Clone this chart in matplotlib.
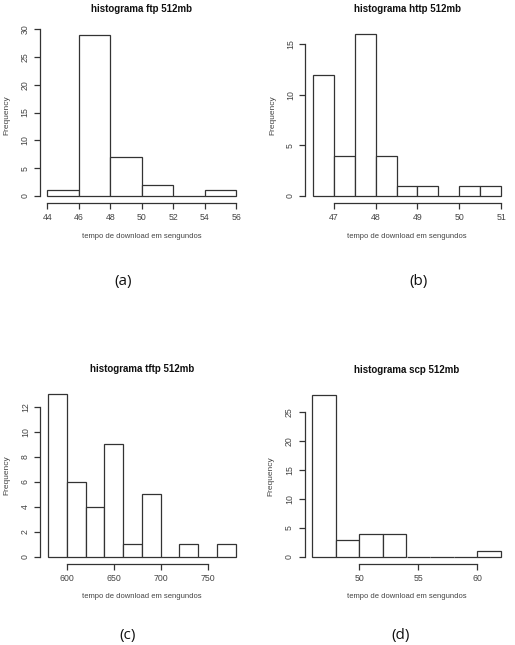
import numpy as np
import matplotlib
matplotlib.use("Agg")
import matplotlib.pyplot as plt

# ---- data ----
titles = ["histograma ftp 512mb", "histograma http 512mb",
          "histograma tftp 512mb", "histograma scp 512mb"]
panel_labels = ["(a)", "(b)", "(c)", "(d)"]
xlabel = "tempo de download em sengundos"
ylabel = "Frequency"

ftp_breaks = [44, 46, 48, 50, 52, 54, 56]
ftp_counts = [1, 29, 7, 2, 0, 1]
ftp_xticks = [44, 46, 48, 50, 52, 54, 56]
ftp_yticks = [0, 5, 10, 15, 20, 25, 30]

http_breaks = [46.5, 47, 47.5, 48, 48.5, 49, 49.5, 50, 50.5, 51]
http_counts = [12, 4, 16, 4, 1, 1, 0, 1, 1]
http_xticks = [47, 48, 49, 50, 51]
http_yticks = [0, 5, 10, 15]

tftp_breaks = [580, 600, 620, 640, 660, 680, 700, 720, 740, 760, 780]
tftp_counts = [13, 6, 4, 9, 1, 5, 0, 1, 0, 1]
tftp_xticks = [600, 650, 700, 750]
tftp_yticks = [0, 2, 4, 6, 8, 10, 12]

scp_breaks = [46, 48, 50, 52, 54, 56, 58, 60, 62]
scp_counts = [28, 3, 4, 4, 0, 0, 0, 1]
scp_xticks = [50, 55, 60]
scp_yticks = [0, 5, 10, 15, 20, 25]

W, H = 515, 645
fig = plt.figure(figsize=(W / 100, H / 100), dpi=100)
fig.patch.set_facecolor("white")

# pixel rectangles (left, right, top, bottom)
rects = [(39.7, 243.9, 28.1, 202.5),
         (305.2, 508.8, 27.7, 202.5),
         (40.4, 243.4, 387.6, 563.5),
         (304.5, 508.5, 388.1, 563.5)]
title_y = [9.5, 9.5, 369.5, 370.0]
xlabel_y = [237, 237, 597, 597]
ylabel_x = [7, 273, 7, 271]
plabel_pos = [(123, 282), (419, 282), (128, 636), (401, 636)]

datasets = [(ftp_breaks, ftp_counts, ftp_xticks, ftp_yticks),
            (http_breaks, http_counts, http_xticks, http_yticks),
            (tftp_breaks, tftp_counts, tftp_xticks, tftp_yticks),
            (scp_breaks, scp_counts, scp_xticks, scp_yticks)]

line_col = "#333333"
text_col = "#444444"
font = ["Liberation Sans", "DejaVu Sans"]

for i, (brk, cnt, xt, yt) in enumerate(datasets):
    l, r, t, b = rects[i]
    ax = fig.add_axes([l / W, 1 - b / H, (r - l) / W, (b - t) / H])
    brk = np.array(brk, dtype=float)
    cnt = np.array(cnt, dtype=float)
    ax.bar(brk[:-1], cnt, width=np.diff(brk), align="edge",
           facecolor="white", edgecolor=line_col, linewidth=0.9)
    rng = brk[-1] - brk[0]
    ax.set_xlim(brk[0] - 0.04 * rng, brk[-1] + 0.04 * rng)
    ymax = cnt.max()
    ax.set_ylim(-0.04 * ymax, ymax * 1.04)
    for s in ["top", "right"]:
        ax.spines[s].set_visible(False)
    for s in ["left", "bottom"]:
        ax.spines[s].set_color(line_col)
        ax.spines[s].set_linewidth(0.9)
    ax.spines["left"].set_bounds(yt[0], yt[-1])
    ax.spines["bottom"].set_bounds(xt[0], xt[-1])
    ax.set_xticks(xt)
    ax.set_yticks(yt)
    ax.set_xticklabels([str(v) for v in xt], fontsize=6.3, color=text_col,
                       family=font)
    ax.set_yticklabels([str(v) for v in yt], fontsize=6.3, color=text_col,
                       family=font, rotation=90, va="center")
    ax.tick_params(axis="both", length=4, width=0.9, color=line_col,
                   direction="out", pad=3.5)
    ax.patch.set_visible(False)

    cx = (l + r) / 2
    fig.text(cx / W, 1 - title_y[i] / H, titles[i], ha="center", va="center",
             fontsize=7, fontweight="bold", color="#111111", family=font)
    fig.text(cx / W, 1 - xlabel_y[i] / H, xlabel, ha="center", va="center",
             fontsize=5.5, color=text_col, family=font)
    fig.text(ylabel_x[i] / W, 1 - ((t + b) / 2) / H, ylabel, ha="center",
             va="center", rotation=90, fontsize=6.0, color=text_col, family=font)
    px, py = plabel_pos[i]
    fig.text(px / W, 1 - py / H, panel_labels[i], ha="center", va="center",
             fontsize=11, color="#111111", family=["Open Sans", "DejaVu Sans"])

fig.savefig("out.png", dpi=100, facecolor="white")
